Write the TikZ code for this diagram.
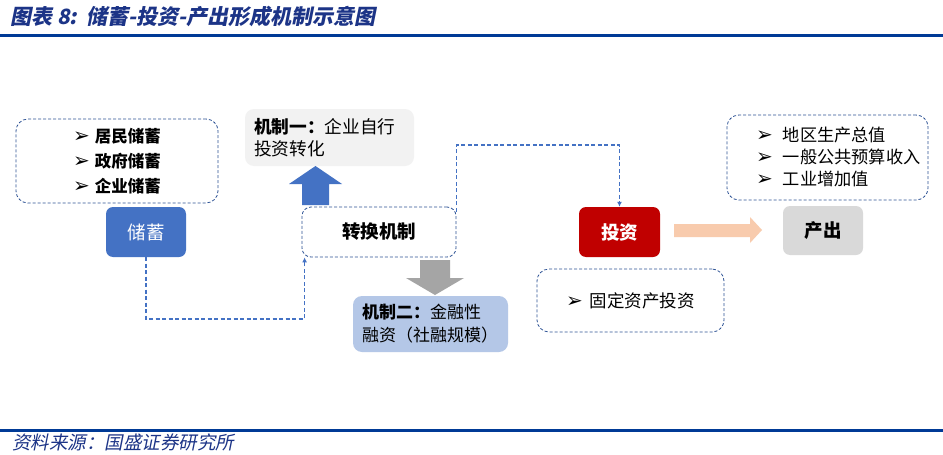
\documentclass[tikz,border=0pt]{standalone}
\usepackage{fontspec}
\setmainfont{Noto Sans CJK SC}
\newfontfamily\djv{DejaVu Sans}
\newfontfamily\slfont[FakeSlant=0.2]{Noto Sans CJK SC}
\usetikzlibrary{arrows.meta}
\definecolor{navy}{RGB}{0,58,150}
\definecolor{titleblue}{RGB}{28,52,135}
\definecolor{dashblue}{RGB}{47,84,150}
\definecolor{cblue}{RGB}{68,114,196}
\definecolor{lgray}{RGB}{242,242,242}
\definecolor{mgray}{RGB}{217,217,217}
\definecolor{agray}{RGB}{165,165,165}
\definecolor{lblue}{RGB}{180,199,231}
\definecolor{dred}{RGB}{192,0,0}
\definecolor{peach}{RGB}{248,203,173}
\newcommand\bul[1]{{\djv\fontsize{20}{0}\selectfont\char"27A2}\hspace{#1}}
\tikzset{
  dbox/.style={draw=dashblue, line width=0.8pt, dash pattern=on 3pt off 2pt, rounded corners=12pt, inner sep=0pt},
  fbox/.style={rounded corners=7pt, inner sep=0pt},
  conn/.style={draw=cblue, line width=1.1pt, dash pattern=on 4pt off 2.5pt},
  tip/.style={-{Latex[length=5pt,width=5pt]}},
  lst/.style={font=\fontsize{16.5}{25}\selectfont},
}
\begin{document}
\begin{tikzpicture}[x=1pt,y=-1pt]
\useasboundingbox (0,0) rectangle (943,455);
\fill[white] (0,0) rectangle (943,455);
% title and rules
\node[anchor=west, inner sep=0pt, text=titleblue, font=\slfont\bfseries\fontsize{21}{21}\selectfont] (title) at (10,16) {图表 8:\ \ 储蓄-投资-产出形成机制示意图};
\draw[navy, line width=3pt] (0,35) -- (943,35);
\draw[navy, line width=2.7pt] (0,430.3) -- (943,430.3);
\node[anchor=west, inner sep=0pt, text=titleblue, font=\slfont\fontsize{18.5}{18.5}\selectfont] (src) at (12,442) {资料来源：国盛证券研究所};
% savings list
\node[dbox, lst, minimum width=202pt, minimum height=84pt, align=left] (sl) at (117,161) {\bul{5pt}\textbf{居民储蓄}\\\bul{5pt}\textbf{政府储蓄}\\\bul{5pt}\textbf{企业储蓄}};
% savings
\node[fbox, fill=cblue, minimum width=80pt, minimum height=50pt, text=white, font=\fontsize{18.5}{18.5}\selectfont] (chu) at (146,232) {储蓄};
% mechanism 1
\node[fbox, fill=lgray, rounded corners=9pt, minimum width=169pt, minimum height=57pt, text width=151pt, inner xsep=9pt, align=left, font=\fontsize{17.7}{22}\selectfont] (j1) at (329.5,137.5) {\textbf{机制一：}企业自行\\投资转化};
% conversion
\node[dbox, rounded corners=9pt, minimum width=154pt, minimum height=50pt, font=\bfseries\fontsize{18.5}{18.5}\selectfont] (zh) at (379,232) {转换机制};
% mechanism 2
\node[fbox, fill=lblue, rounded corners=9pt, minimum width=155pt, minimum height=56pt, text width=137pt, inner xsep=9pt, align=left, font=\fontsize{17}{23}\selectfont] (j2) at (430.5,324) {\textbf{机制二：}金融性\\融资（社融规模）};
% investment
\node[fbox, fill=dred, minimum width=81pt, minimum height=50pt, text=white, font=\bfseries\fontsize{18.5}{18.5}\selectfont] (tz) at (619.5,232) {投资};
% fixed assets
\node[dbox, minimum width=187pt, minimum height=63pt, font=\fontsize{17.5}{17.5}\selectfont] (fa) at (630.5,300.5) {\bul{7pt}固定资产投资};
% output
\node[fbox, fill=mgray, minimum width=80pt, minimum height=49pt, font=\bfseries\fontsize{18.5}{18.5}\selectfont] (cc) at (823,230.5) {产出};
% output list
\node[dbox, minimum width=201pt, minimum height=85pt] (ol) at (827.5,157.5) {};
\node[anchor=west, inner sep=0pt, align=left, font=\fontsize{17.2}{22}\selectfont] (olt) at (756,156.5) {\bul{10pt}地区生产总值\\\bul{10pt}一般公共预算收入\\\bul{10pt}工业增加值};
% block arrows
\fill[cblue] (302,205) -- (329,205) -- (329,184) -- (342,184) -- (315.5,166) -- (289,184) -- (302,184) -- cycle;
\fill[agray] (420,260) -- (450,260) -- (450,278) -- (464,278) -- (435,295) -- (406,278) -- (420,278) -- cycle;
\fill[peach] (674,224) -- (750,224) -- (750,217) -- (762,230) -- (750,243) -- (750,237) -- (674,237) -- cycle;
% connectors
\coordinate (k1) at (chu.south |- 0,319);
\draw[conn, tip] (chu.south) -- (k1) -| ([xshift=3pt]zh.south west);
\coordinate (k2) at (zh.east |- 0,145);
\draw[conn, tip] ([yshift=-5pt]zh.north east) -- (k2) -| (tz.north);
\end{tikzpicture}
\end{document}
